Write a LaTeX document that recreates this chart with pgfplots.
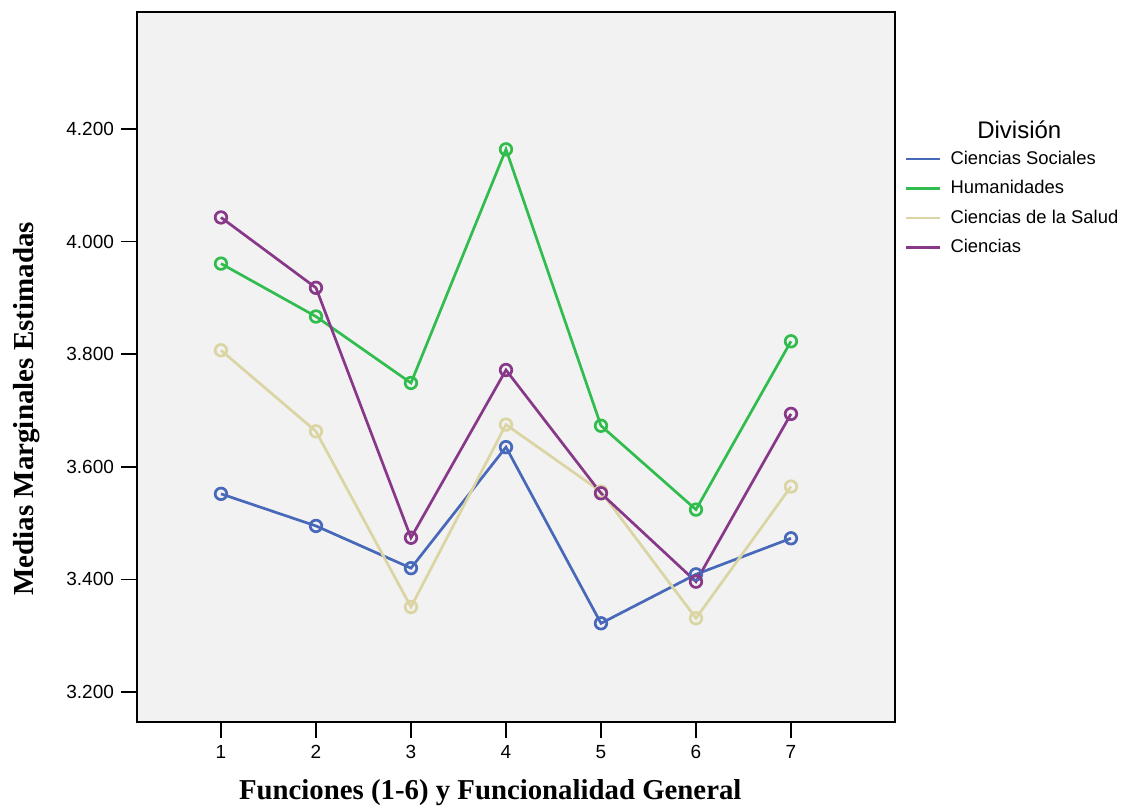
\documentclass[border=0pt]{standalone}
\usepackage{fontspec}
\setmainfont{Liberation Sans}
\newfontfamily\titlefont{Liberation Serif}
\usepackage{pgfplots}
\pgfplotsset{compat=1.18}
\definecolor{cSoc}{HTML}{4868BA}
\definecolor{cHum}{HTML}{30BD4E}
\definecolor{cSal}{HTML}{DAD5A2}
\definecolor{cCie}{HTML}{873889}
\definecolor{bgc}{HTML}{F2F2F2}
\begin{document}
\begin{tikzpicture}
\useasboundingbox (0,0) rectangle (561pt,403.5pt);
\begin{axis}[
  at={(68.5pt,42.5pt)}, anchor=south west,
  scale only axis, width=379pt, height=355pt,
  xmin=0.116, xmax=8.095, ymin=3.1467, ymax=4.408,
  axis background/.style={fill=bgc},
  axis line style={black, line width=0.75pt},
  xtick={1,2,3,4,5,6,7}, xticklabels={1,2,3,4,5,6,7},
  ytick={3.2,3.4,3.6,3.8,4.0,4.2},
  yticklabels={3.200,3.400,3.600,3.800,4.000,4.200},
  tick align=outside, xtick pos=bottom, ytick pos=left,
  major tick length=8pt,
  tick style={black, line width=0.75pt},
  ticklabel style={font=\fontsize{9.5}{11}\selectfont},
  xlabel={\titlefont\bfseries Funciones (1-6) y Funcionalidad General},
  ylabel={\titlefont\bfseries Medias Marginales Estimadas},
  xlabel style={font=\fontsize{14.4}{16}\selectfont, at={(rel axis cs:0.466,-0.1)}, anchor=center},
  ylabel style={font=\fontsize{14.5}{16}\selectfont, at={(rel axis cs:-0.1451,0.441)}, anchor=center},
  clip=false,
  every axis plot/.append style={line width=1.35pt, mark=o, mark size=2.9pt, mark options={solid}},
  legend image post style={mark=none, line width=1.35pt},
  legend cell align=left,
  legend style={at={(rel axis cs:1.012,0.806)}, anchor=north west, draw=none, fill=none,
    inner sep=0pt, font=\fontsize{9.2}{11}\selectfont, row sep=5.75pt,
    nodes={inner sep=0pt, text height=7pt, text depth=2pt},
    /tikz/every odd column/.append style={column sep=4.6pt}},
]
\addplot[cSoc] coordinates {(1,3.552) (2,3.495) (3,3.420) (4,3.635) (5,3.322) (6,3.409) (7,3.473)};
\addlegendentry{Ciencias Sociales}
\addplot[cHum] coordinates {(1,3.961) (2,3.867) (3,3.749) (4,4.164) (5,3.673) (6,3.524) (7,3.823)};
\addlegendentry{Humanidades}
\addplot[cSal] coordinates {(1,3.807) (2,3.663) (3,3.351) (4,3.675) (5,3.556) (6,3.331) (7,3.565)};
\addlegendentry{Ciencias de la Salud}
\addplot[cCie] coordinates {(1,4.043) (2,3.918) (3,3.474) (4,3.772) (5,3.553) (6,3.396) (7,3.694)};
\addlegendentry{Ciencias}
\node[font=\fontsize{12}{14}\selectfont, anchor=center] at (rel axis cs:1.164,0.834) {División};
\end{axis}
\end{tikzpicture}
\end{document}
